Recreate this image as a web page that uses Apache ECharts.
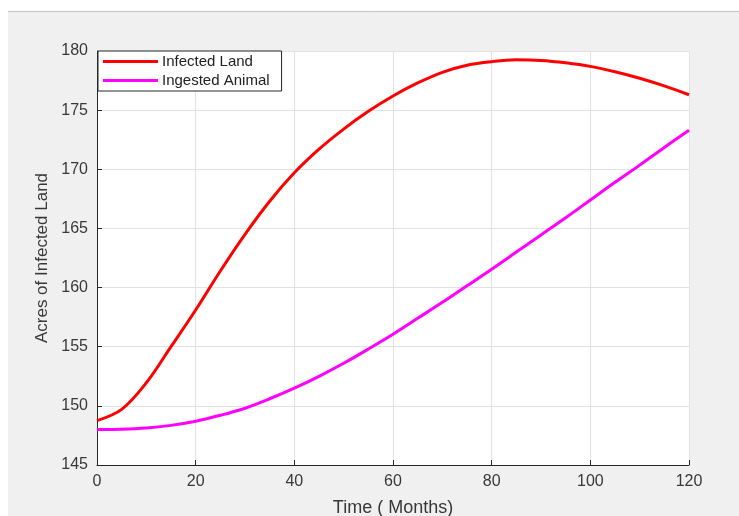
<!DOCTYPE html>
<html>
<head>
<meta charset="utf-8">
<script src="https://cdn.jsdelivr.net/npm/echarts@6/dist/echarts.min.js"></script>
<style>
  html, body { margin: 0; padding: 0; background: #fff; }
  #chart { width: 739px; height: 516px; }
</style>
</head>
<body>
<div id="chart"></div>
<script>
// values
const months = [0, 5, 10, 15, 20, 25, 30, 35, 40, 45, 50, 55, 60, 65, 70, 75, 80, 85, 90, 95, 100, 105, 110, 115, 120]
const infectedLand = [148.75, 149.7, 151.95, 155.0, 158.1, 161.4, 164.5, 167.3, 169.7, 171.7, 173.4, 174.9, 176.2, 177.3, 178.2, 178.8, 179.1, 179.25, 179.2, 179.0, 178.7, 178.25, 177.7, 177.05, 176.3]
const ingestedAnimal = [148.0, 148.02, 148.12, 148.35, 148.7, 149.2, 149.8, 150.6, 151.5, 152.5, 153.6, 154.8, 156.05, 157.4, 158.75, 160.15, 161.55, 163.0, 164.45, 165.9, 167.4, 168.9, 170.35, 171.85, 173.3]
const seriesNames = ['Infected Land', 'Ingested Animal']

const font = '"Liberation Sans", Arial, Helvetica, sans-serif'
const textColor = '#383838'

function pairs(ys) {
  return months.map((m, i) => [m, ys[i]])
}

const chart = echarts.init(document.getElementById('chart'), null, { renderer: 'canvas' })
chart.setOption({
  backgroundColor: '#fff',
  animation: false,
  graphic: [
    {
      type: 'rect',
      z: -10,
      shape: { x: 8, y: 11, width: 731, height: 505 },
      style: { fill: '#f0f0f0' }
    },
    {
      type: 'line',
      z: -9,
      shape: { x1: 8, y1: 11.5, x2: 739, y2: 11.5 },
      style: { stroke: '#c4c4c4', lineWidth: 1 }
    }
  ],
  grid: {
    left: 97,
    right: 50,
    top: 51,
    bottom: 51,
    outerBoundsMode: 'none',
    show: true,
    backgroundColor: '#fff',
    borderWidth: 0
  },
  legend: {
    orient: 'vertical',
    left: 98,
    top: 51,
    padding: [3, 12, 3, 5],
    itemGap: 4,
    itemWidth: 55,
    itemHeight: 3,
    icon: 'rect',
    backgroundColor: '#fff',
    borderColor: '#262626',
    borderWidth: 1,
    borderRadius: 0,
    textStyle: { fontFamily: font, fontSize: 15, color: '#222', padding: [0, 0, 0, -1] },
    data: seriesNames
  },
  xAxis: {
    type: 'value',
    min: 0,
    max: 120,
    interval: 20,
    name: 'Time ( Months)',
    nameLocation: 'middle',
    nameGap: 34,
    nameTextStyle: { fontFamily: font, fontSize: 18, color: textColor },
    axisLine: { lineStyle: { color: '#262626', width: 1 } },
    axisTick: { inside: true, length: 5, lineStyle: { color: '#262626' } },
    axisLabel: { fontFamily: font, fontSize: 16, color: textColor, margin: 9 },
    splitLine: { show: true, lineStyle: { color: '#e2e2e2', width: 1 } }
  },
  yAxis: {
    type: 'value',
    min: 145,
    max: 180,
    interval: 5,
    name: 'Acres of Infected Land',
    nameLocation: 'middle',
    nameGap: 46,
    nameTextStyle: { fontFamily: font, fontSize: 17, color: textColor },
    axisLine: { show: true, lineStyle: { color: '#262626', width: 1 } },
    axisTick: { show: true, inside: true, length: 5, lineStyle: { color: '#262626' } },
    axisLabel: { fontFamily: font, fontSize: 16, color: textColor, margin: 9 },
    splitLine: { show: true, lineStyle: { color: '#e2e2e2', width: 1 } }
  },
  series: [
    {
      name: seriesNames[0],
      type: 'line',
      data: pairs(infectedLand),
      smooth: 0.35,
      showSymbol: false,
      itemStyle: { color: '#ff0000' },
      lineStyle: { color: '#ff0000', width: 3 }
    },
    {
      name: seriesNames[1],
      type: 'line',
      data: pairs(ingestedAnimal),
      smooth: 0.35,
      showSymbol: false,
      itemStyle: { color: '#ff00ff' },
      lineStyle: { color: '#ff00ff', width: 3 }
    }
  ]
})
</script>
</body>
</html>
